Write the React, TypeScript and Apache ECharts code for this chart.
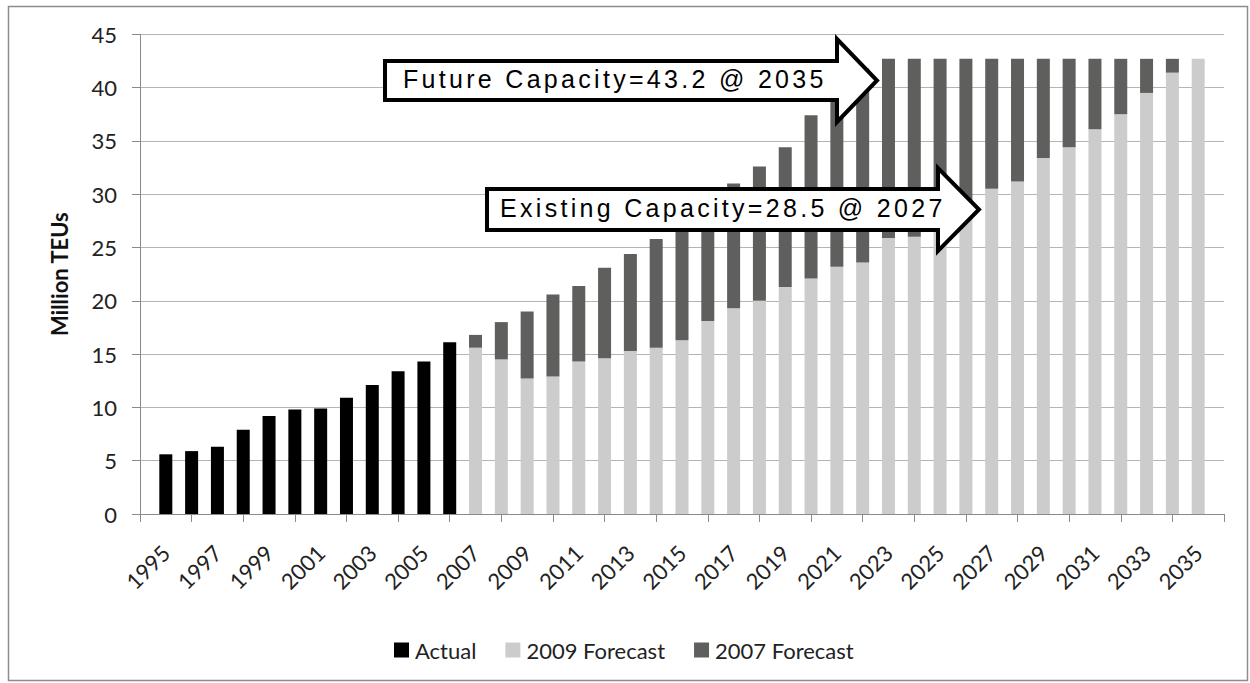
import React, { useEffect, useRef } from "react";
import * as echarts from "echarts";

const categories = [
  "1994", "1995", "1996", "1997", "1998", "1999", "2000", "2001", "2002", "2003",
  "2004", "2005", "2006", "2007", "2008", "2009", "2010", "2011", "2012", "2013",
  "2014", "2015", "2016", "2017", "2018", "2019", "2020", "2021", "2022", "2023",
  "2024", "2025", "2026", "2027", "2028", "2029", "2030", "2031", "2032", "2033",
  "2034", "2035", "2036",
];

// Actual, 1995–2006
const actualStart = 1995;
const actual = [5.6, 5.9, 6.3, 7.9, 9.2, 9.8, 9.9, 10.9, 12.1, 13.4, 14.3, 16.1];

// 2009 Forecast, 2007–2035
const forecastStart = 2007;
const forecast2009 = [
  15.6, 14.5, 12.7, 12.9, 14.3, 14.6, 15.3, 15.6, 16.3, 18.1,
  19.3, 20.0, 21.3, 22.1, 23.2, 23.6, 25.9, 26.0, 27.2, 28.5,
  30.5, 31.2, 33.4, 34.4, 36.1, 37.5, 39.5, 41.4, 42.7,
];

// 2007 Forecast (totals), 2007–2035
const forecast2007 = [
  16.8, 18.0, 19.0, 20.6, 21.4, 23.1, 24.4, 25.8, 27.5, 29.3,
  31.0, 32.6, 34.4, 37.4, 39.6, 41.8, 42.7, 42.7, 42.7, 42.7,
  42.7, 42.7, 42.7, 42.7, 42.7, 42.7, 42.7, 42.7, 42.7,
];

const yTicks = { min: 0, max: 45, interval: 5 };

const legendNames = ["Actual", "2009 Forecast", "2007 Forecast"];
const annotations = ["Future Capacity=43.2 @ 2035", "Existing Capacity=28.5 @ 2027"];

const LABEL_FONT = "Lato";
const ANNOT_FONT = "Liberation Sans";

function arrowPoints(x0: number, x1: number, yTop: number, yBot: number, headTop: number, headBot: number, tipX: number) {
  const mid = (yTop + yBot) / 2;
  return [
    [x0, yTop], [x1, yTop], [x1, headTop], [tipX, mid], [x1, headBot], [x1, yBot], [x0, yBot],
  ];
}

export default function App() {
  const ref = useRef<HTMLDivElement>(null);

  useEffect(() => {
    if (!ref.current) return;
    const chart = echarts.init(ref.current, undefined, { renderer: "svg" });

    const actualData = categories.map((c) => {
      const i = Number(c) - actualStart;
      return i >= 0 && i < actual.length ? actual[i] : null;
    });
    const f09Data = categories.map((c) => {
      const i = Number(c) - forecastStart;
      return i >= 0 && i < forecast2009.length ? forecast2009[i] : null;
    });
    const f07Data = categories.map((c) => {
      const i = Number(c) - forecastStart;
      return i >= 0 && i < forecast2007.length
        ? Math.round((forecast2007[i] - forecast2009[i]) * 100) / 100
        : null;
    });

    const option: any = {
      animation: false,
      backgroundColor: "#ffffff",
      grid: { left: 140, top: 34.3, width: 1084, height: 479.7, containLabel: false },
      legend: {
        data: legendNames,
        left: 394,
        top: 639,
        padding: 0,
        itemWidth: 15,
        itemHeight: 15,
        itemGap: 29,
        icon: "rect",
        textStyle: { fontFamily: LABEL_FONT, fontSize: 22, color: "#222", padding: [0, 0, 0, 1] },
      },
      xAxis: {
        type: "category",
        data: categories,
        boundaryGap: false,
        axisLine: { show: true, lineStyle: { color: "#8a8a8a", width: 1 } },
        axisTick: {
          show: true,
          length: 8,
          interval: (index: number) => index % 2 === 0,
          lineStyle: { color: "#8a8a8a" },
        },
        axisLabel: {
          interval: (index: number) => index % 2 === 1,
          rotate: 45,
          margin: 35,
          fontFamily: LABEL_FONT,
          fontSize: 22,
          color: "#222",
        },
        splitLine: { show: false },
      },
      yAxis: {
        type: "value",
        min: yTicks.min,
        max: yTicks.max,
        interval: yTicks.interval,
        name: "Million TEUs",
        nameLocation: "middle",
        nameGap: 70,
        nameTextStyle: { fontFamily: LABEL_FONT, fontSize: 22, fontWeight: "bold", color: "#111" },
        axisLine: { show: true, lineStyle: { color: "#8a8a8a", width: 1 } },
        axisTick: { show: true, length: 8, lineStyle: { color: "#8a8a8a" } },
        axisLabel: { margin: 23, fontFamily: LABEL_FONT, fontSize: 22, color: "#222" },
        splitLine: { show: true, lineStyle: { color: "#b4b4b4", width: 1 } },
      },
      series: [
        {
          name: legendNames[0],
          type: "bar",
          stack: "teu",
          barWidth: 13,
          data: actualData,
          itemStyle: { color: "#000000" },
        },
        {
          name: legendNames[1],
          type: "bar",
          stack: "teu",
          barWidth: 13,
          data: f09Data,
          itemStyle: { color: "#cccccc" },
        },
        {
          name: legendNames[2],
          type: "bar",
          stack: "teu",
          barWidth: 13,
          data: f07Data,
          itemStyle: { color: "#5f605e" },
        },
      ],
      graphic: [
        {
          type: "rect",
          z: 0,
          silent: true,
          shape: { x: 8.5, y: 6.5, width: 1239, height: 674 },
          style: { fill: "none", stroke: "#8c8c8c", lineWidth: 1.5 },
        },
        {
          type: "polygon",
          z: 100,
          shape: { points: arrowPoints(385, 837, 61, 100, 39, 122, 877) },
          style: { fill: "#ffffff", stroke: "#000000", lineWidth: 4, lineJoin: "miter" },
        },
        {
          type: "text",
          z: 101,
          x: 403,
          y: 79,
          style: {
            text: annotations[0],
            fontFamily: ANNOT_FONT,
            fontSize: 25,
            fill: "#000",
            align: "left",
            verticalAlign: "middle",
          },
        },
        {
          type: "polygon",
          z: 100,
          shape: { points: arrowPoints(487, 938, 189, 230, 168, 251, 979) },
          style: { fill: "#ffffff", stroke: "#000000", lineWidth: 4, lineJoin: "miter" },
        },
        {
          type: "text",
          z: 101,
          x: 500,
          y: 208,
          style: {
            text: annotations[1],
            fontFamily: ANNOT_FONT,
            fontSize: 25,
            fill: "#000",
            align: "left",
            verticalAlign: "middle",
          },
        },
      ],
    };

    chart.setOption(option);
    return () => chart.dispose();
  }, []);

  return (
    <>
      <style>{`#root text[style*="Liberation Sans"]{letter-spacing:3.3px;}`}</style>
      <div
        ref={ref}
        style={{ position: "absolute", left: 0, top: 0, width: 1250, height: 683, background: "#fff" }}
      />
    </>
  );
}
